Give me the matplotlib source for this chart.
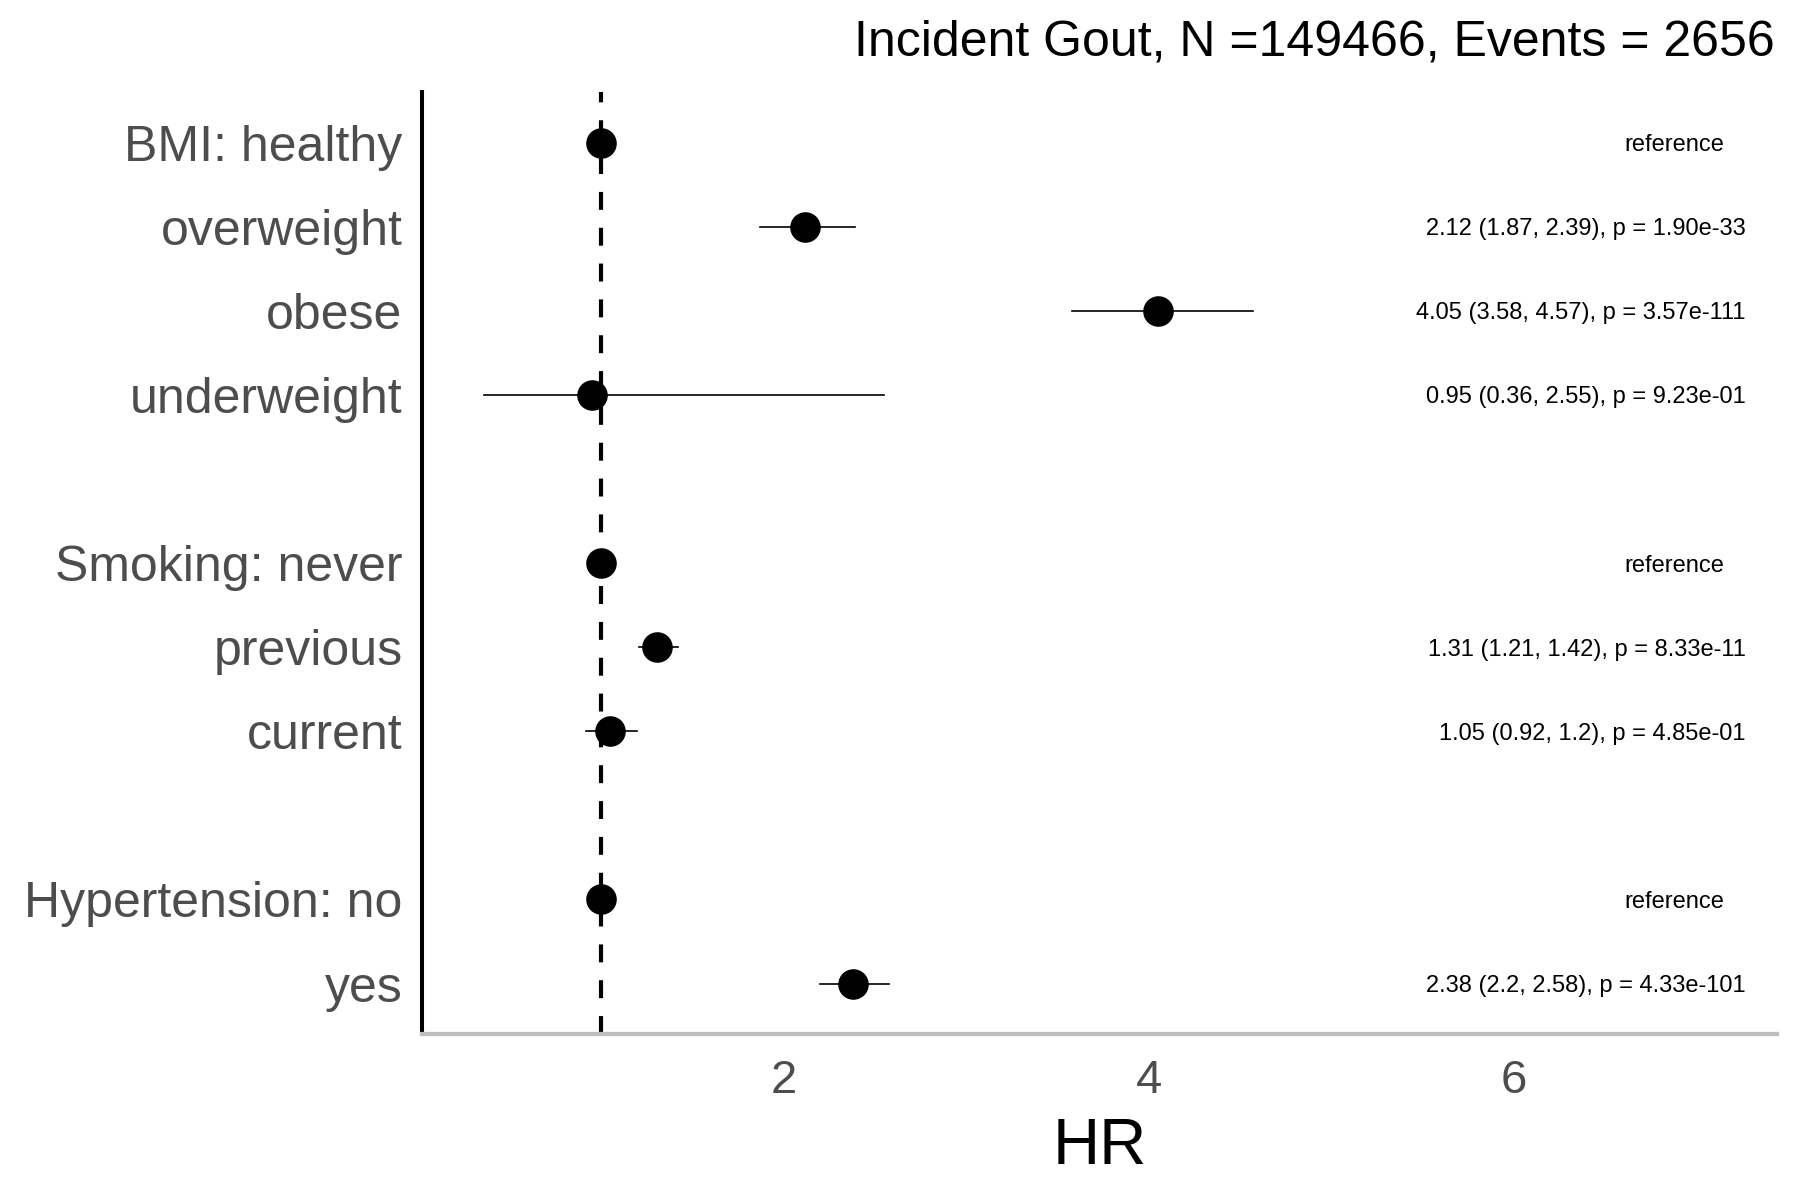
import matplotlib
matplotlib.use("Agg")
import matplotlib.pyplot as plt
import numpy as np

plt.rcParams['font.family'] = ['Liberation Sans', 'DejaVu Sans']

# Data (top to bottom)
labels = ["BMI: healthy", "overweight", "obese", "underweight", "",
          "Smoking: never", "previous", "current", "",
          "Hypertension: no", "yes"]
hr = [1.0, 2.12, 4.05, 0.95, None, 1.0, 1.31, 1.05, None, 1.0, 2.38]
lo = [None, 1.87, 3.58, 0.36, None, None, 1.21, 0.92, None, None, 2.2]
hi = [None, 2.39, 4.57, 2.55, None, None, 1.42, 1.2, None, None, 2.58]
notes = ["reference", "2.12 (1.87, 2.39), p = 1.90e-33",
         "4.05 (3.58, 4.57), p = 3.57e-111", "0.95 (0.36, 2.55), p = 9.23e-01", "",
         "reference", "1.31 (1.21, 1.42), p = 8.33e-11",
         "1.05 (0.92, 1.2), p = 4.85e-01", "",
         "reference", "2.38 (2.2, 2.58), p = 4.33e-101"]
title = "Incident Gout, N =149466, Events = 2656"
xticks = [2, 4, 6]

fig = plt.figure(figsize=(18, 12), dpi=100)
ax = fig.add_axes([0.2344, 0.1383, 0.9872 - 0.2344, 0.9233 - 0.1383])

n = len(labels)
ypos = np.arange(n)[::-1]

ax.axvline(1.0, color='black', lw=3.0, ls=(0, (4.3, 4.3)), zorder=1)

for y, h, l, u, t in zip(ypos, hr, lo, hi, notes):
    if l is not None:
        ax.plot([l, u], [y, y], color='black', lw=1.2, zorder=2)
    if h is not None:
        ax.plot([h], [y], 'o', color='black', ms=21, zorder=3)
    if t == "reference":
        ax.text(6.88, y, t, ha='center', va='center_baseline', fontsize=17)
    elif t:
        ax.text(7.27, y, t, ha='right', va='center_baseline', fontsize=17)

ax.set_xlim(0.02, 7.44)
ax.set_ylim(-0.6, n - 1 + 0.6)
ax.set_yticks(ypos)
ax.set_yticklabels(labels, fontsize=36, color='#4D4D4D')
ax.set_xticks(xticks)
ax.set_xticklabels([str(v) for v in xticks], fontsize=34, color='#4D4D4D')
ax.tick_params(axis='both', length=0)
ax.tick_params(axis='y', pad=14)
ax.tick_params(axis='x', pad=18)

for s in ['top', 'right']:
    ax.spines[s].set_visible(False)
ax.spines['left'].set_color('black')
ax.spines['left'].set_linewidth(2.9)
ax.spines['bottom'].set_color('#BEBEBE')
ax.spines['bottom'].set_linewidth(3.1)

ax.set_xlabel("HR", fontsize=47, labelpad=10)
fig.text(0.986, 0.965, title, ha='right', va='center', fontsize=36)

fig.savefig("out.png", dpi=100, facecolor='white')
